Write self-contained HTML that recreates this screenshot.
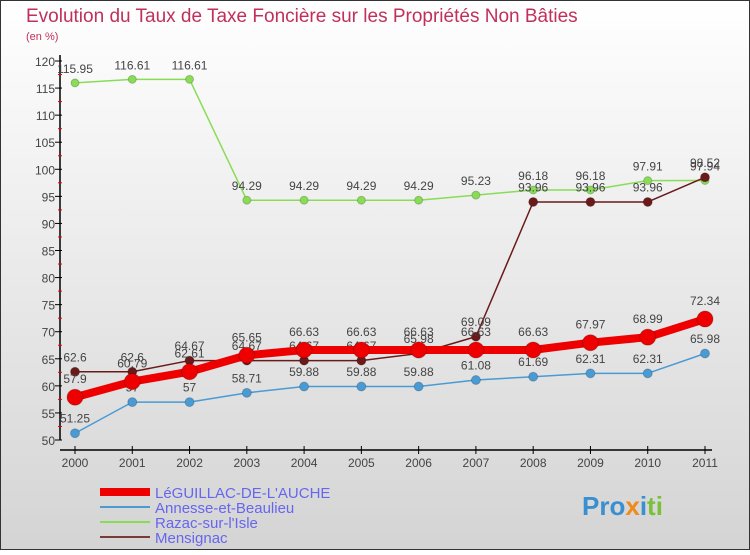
<!DOCTYPE html>
<html><head><meta charset="utf-8"><style>
html,body{margin:0;padding:0}
body{width:750px;height:550px;overflow:hidden;font-family:"Liberation Sans",sans-serif}
</style></head><body>
<svg width="750" height="550" xmlns="http://www.w3.org/2000/svg">
<defs><linearGradient id="bg" x1="0" y1="0" x2="0" y2="1"><stop offset="0" stop-color="#ffffff"/><stop offset="1" stop-color="#d4d4d4"/></linearGradient></defs>
<rect x="0.5" y="0.5" width="749" height="549" fill="url(#bg)" stroke="#333"/>
<text x="26" y="22" font-size="19" fill="#c0305a">Evolution du Taux de Taxe Foncière sur les Propriétés Non Bâties</text>
<text x="26" y="40" font-size="11" fill="#c0305a">(en %)</text>
<g id="axes"></g>
<g id="series"></g>
<g id="legend"></g>
<g font-size="26" font-weight="bold">
<text x="582" y="515" fill="#3a8fd0">Pro<tspan fill="#f08a1a">x</tspan><tspan fill="#3a8fd0">i</tspan><tspan fill="#7bc03a">ti</tspan></text>
</g>
</svg>
<script>
const years=[2000,2001,2002,2003,2004,2005,2006,2007,2008,2009,2010,2011];
const yTicks=[50,55,60,65,70,75,80,85,90,95,100,105,110,115,120];
const leguillac=[57.9,60.79,62.61,65.65,66.63,66.63,66.63,66.63,66.63,67.97,68.99,72.34];
const annesse=[51.25,57,57,58.71,59.88,59.88,59.88,61.08,61.69,62.31,62.31,65.98];
const razac=[115.95,116.61,116.61,94.29,94.29,94.29,94.29,95.23,96.18,96.18,97.91,97.94];
const mensignac=[62.6,62.6,64.67,64.67,64.67,64.67,65.98,69.09,93.96,93.96,93.96,98.52];
const seriesNames=["LéGUILLAC-DE-L'AUCHE","Annesse-et-Beaulieu","Razac-sur-l'Isle","Mensignac"];
const NS="http://www.w3.org/2000/svg";
const xS=y=>75+(y-2000)*(630/11);
const yS=v=>440-(v-50)*(379/70);
function mk(t,a,p){const e=document.createElementNS(NS,t);for(const k in a)e.setAttribute(k,a[k]);p.appendChild(e);return e;}
const ax=document.getElementById('axes');
let l=mk('line',{x1:60,y1:55,x2:60,y2:440,stroke:'#000','stroke-width':1.5},ax);


l=mk('line',{x1:60,y1:450,x2:712,y2:450,stroke:'#000','stroke-width':1.5},ax);


yTicks.forEach(v=>{
 mk('line',{x1:55,y1:yS(v),x2:62,y2:yS(v),stroke:'#000'},ax);
 if(v<120)mk('line',{x1:58,y1:yS(v+2.5),x2:62,y2:yS(v+2.5),stroke:'#e00'},ax);
 const t=mk('text',{x:55,y:yS(v)+5,'text-anchor':'end','font-size':12,fill:'#444'},ax);t.textContent=v;
 
 
});
years.forEach(y=>{
 mk('line',{x1:xS(y),y1:446,x2:xS(y),y2:454,stroke:'#000'},ax);
 const t=mk('text',{x:xS(y),y:467,'text-anchor':'middle','font-size':12,fill:'#444'},ax);t.textContent=y;
 
 
});
const sg=document.getElementById('series');
function draw(data,color,w,r,name){
 const g=mk('g',{},sg);
 
 
 mk('polyline',{points:data.map((v,i)=>xS(years[i])+','+yS(v)).join(' '),fill:'none',stroke:color,'stroke-width':w,'stroke-linejoin':'round'},g);
 data.forEach((v,i)=>{
  const c=mk('circle',{cx:xS(years[i]),cy:yS(v),r:r,fill:color,stroke:'rgba(0,0,0,0.2)'},g);
  
  
  const t=mk('text',{x:xS(years[i]),y:yS(v)-r-6,'text-anchor':'middle','font-size':12,fill:'#444'},g);t.textContent=v;
  
  
 });
}
draw(razac,'#88dd55',1.5,4,'razac-series');
draw(mensignac,'#6b1a1a',1.5,4.5,'mensignac-series');
draw(annesse,'#4a9ad4',1.5,4.5,'annesse-series');
draw(leguillac,'#ee0000',8,8,'leguillac-series');
const lg=document.getElementById('legend');
const lc=['#ee0000','#4a9ad4','#88dd55','#7a3a3a'],lw=[8,2,2,2];
seriesNames.forEach((n,i)=>{
 const y=492+i*15;
 const g=mk('g',{},lg);
 
 
 mk('line',{x1:100,y1:y,x2:150,y2:y,stroke:lc[i],'stroke-width':lw[i]},g);
 const t=mk('text',{x:155,y:y+6,'font-size':15,fill:'#6666ee'},g);t.textContent=n;
});
</script>
</body></html>
